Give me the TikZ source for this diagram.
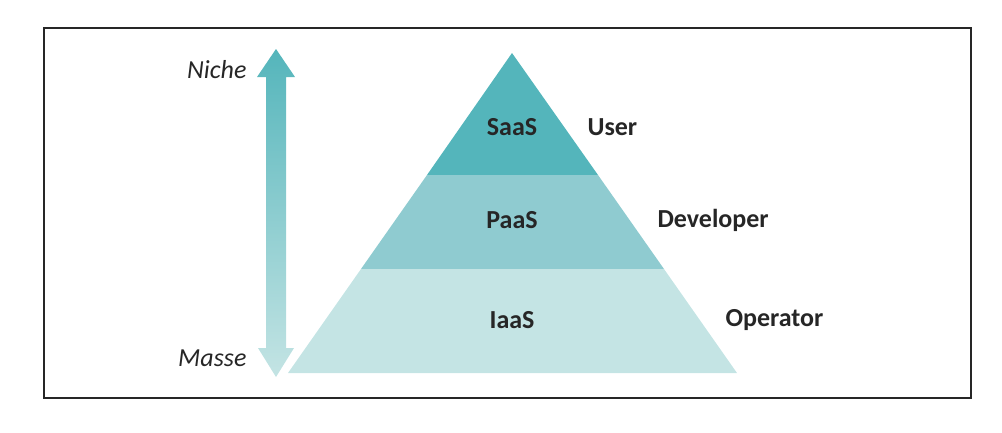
\documentclass[tikz,border=0pt]{standalone}
\usepackage{fontspec}
\setmainfont{Carlito}
\usepackage{tikz}
\definecolor{saascol}{HTML}{54B5BB}
\definecolor{paascol}{HTML}{8FCBD0}
\definecolor{iaascol}{HTML}{C4E4E4}
\definecolor{textcol}{HTML}{262626}

\tikzset{
  layer/.style={font=\fontsize{26}{30}\selectfont\bfseries, text=textcol},
  role/.style={font=\fontsize{26}{30}\selectfont\bfseries, text=textcol, anchor=west},
  scale label/.style={font=\fontsize{26}{30}\selectfont\itshape, text=textcol, anchor=east}
}

\begin{document}
\begin{tikzpicture}[x=1pt, y=-1pt]
    \useasboundingbox (0,0) rectangle (1002,432);

    % frame
    \draw [line width=1.6pt, black!85] (44,28) rectangle (971,398);

    % pyramid, top to bottom
    \fill [saascol] (512,53) -- (598,175) -- (427,175) -- cycle;
    \fill [paascol] (427,175) -- (598,175) -- (664,269) -- (361,269) -- cycle;
    \fill [iaascol] (361,269) -- (664,269) -- (737,373) -- (288,373) -- cycle;

    % this is the double arrow on the left
    \shade [top color=saascol, bottom color=iaascol]
      (276,49) -- (295,77) -- (286,77) -- (286,348) -- (294,348) -- (276,377)
      -- (258,348) -- (266,348) -- (266,77) -- (257,77) -- cycle;

    \node [scale label] (niche) at (250,70) {Niche};
    \node [scale label] (masse) at (250,358) {Masse};

    \node [layer] (saas) at (512,127) {SaaS};
    \node [layer] (paas) at (512,220) {PaaS};
    \node [layer] (iaas) at (512,320) {IaaS};

    \node [role] (user) at (584,127) {User};
    \node [role] (dev) at (654,220) {Developer};
    \node [role] (op) at (722,320) {Operator};
  \end{tikzpicture}
\end{document}
